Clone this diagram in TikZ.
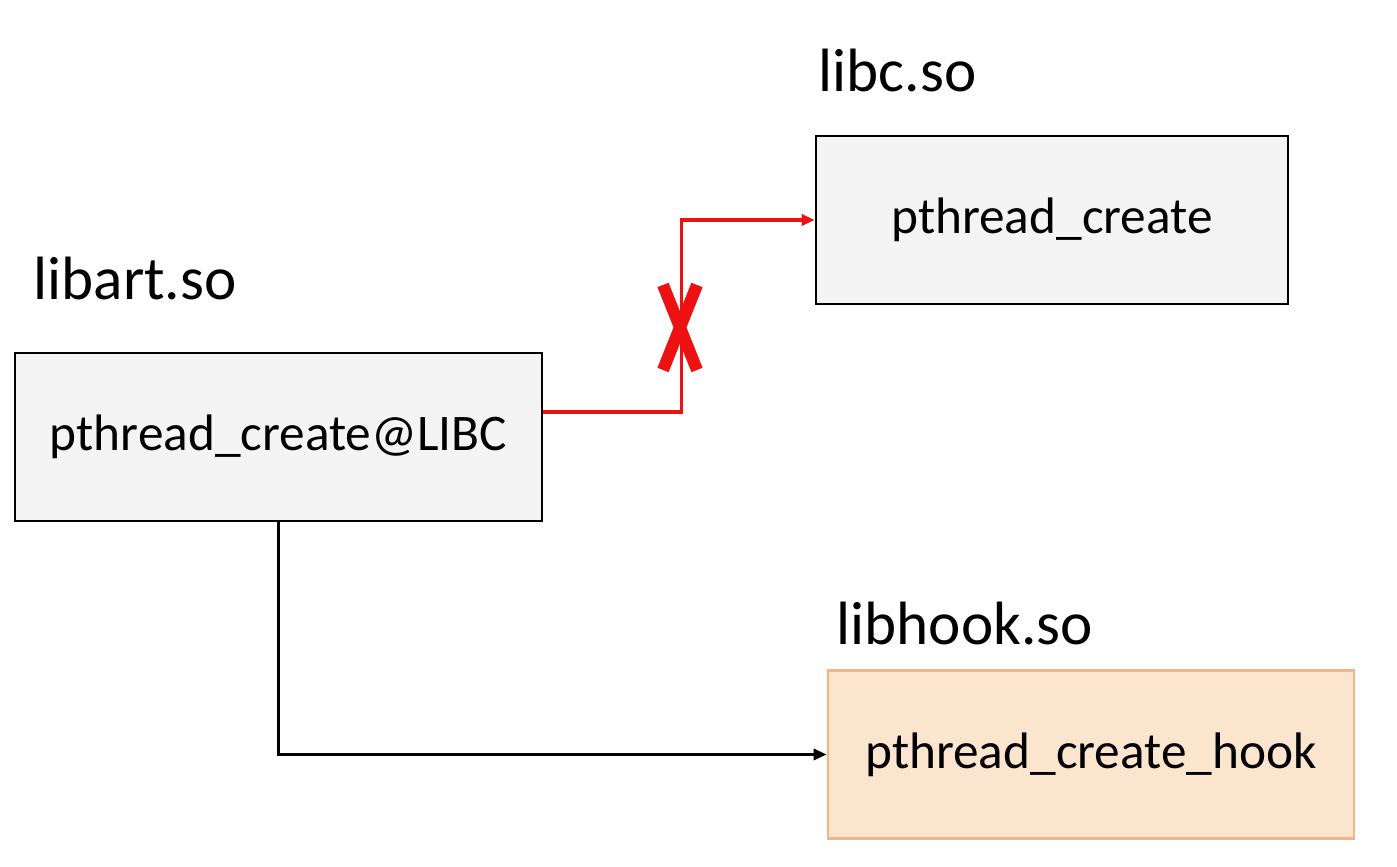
\documentclass[tikz,border=0pt]{standalone}
\usepackage{fontspec}
\setmainfont{Carlito}
\usetikzlibrary{arrows.meta}
\definecolor{boxgray}{HTML}{F4F4F4}
\definecolor{hookfill}{HTML}{FBE5CE}
\definecolor{hookline}{HTML}{F2B58A}
\definecolor{callred}{HTML}{EE1111}
\begin{document}
\begin{tikzpicture}[>={Triangle[length=0.13cm,width=0.11cm]},
    libbox/.style={draw,line width=0.75pt,fill=boxgray,minimum height=1.68cm,
        font=\fontsize{14.6}{17}\selectfont},
    liblabel/.style={anchor=base west,inner sep=0pt,font=\fontsize{17.4}{21}\selectfont},
    link/.style={line width=0.9pt}]
    \useasboundingbox (0,0) rectangle (13.97,-8.67);

    \node[libbox,minimum width=5.27cm] (art) at (2.785,-4.37) {pthread\_create@LIBC};
    \node[libbox,minimum width=4.72cm] (libc) at (10.52,-2.20) {pthread\_create};
    \node[libbox,draw=hookline,fill=hookfill,minimum width=5.26cm] (hook) at (10.91,-7.545)
        {pthread\_create\_hook};

    \node[liblabel] (artname) at (0.33,-3.00) {libart.so};
    \node[liblabel] (libcname) at (8.18,-0.92) {libc.so};
    \node[liblabel] (hookname) at (8.36,-6.45) {libhook.so};

    \draw[link,callred,->] ([yshift=0.25cm]art.east) -- ++(1.38,0) |- (libc.west);
    \draw[link,->] (art.south) |- (hook.west);

    \draw[callred,line width=0.12cm] (6.63,-2.85) -- (6.97,-3.70);
    \draw[callred,line width=0.12cm] (6.97,-2.85) -- (6.63,-3.70);
\end{tikzpicture}
\end{document}
